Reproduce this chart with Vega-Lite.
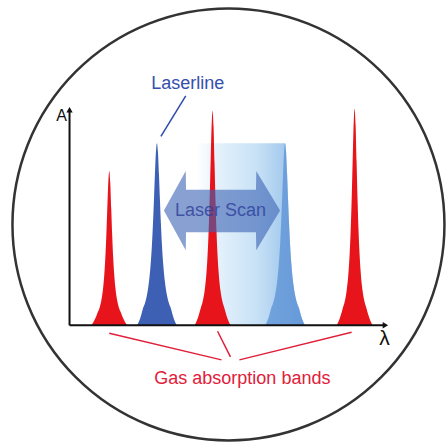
{
  "$schema": "https://vega.github.io/schema/vega-lite/v6.json",
  "width": 448,
  "height": 443,
  "autosize": {"type": "fit", "contains": "padding"},
  "padding": 0,
  "background": "white",
  "config": {"view": {"stroke": null}, "text": {"font": "Liberation Sans"}},
  "datasets": {
    "frame": [{"x": 160, "y": 102}],
    "band": [
      {"x": 128, "y": 184}, {"x": 217, "y": 184}, {"x": 218, "y": 175.4}, {"x": 219, "y": 153.6},
      {"x": 220, "y": 127.3}, {"x": 221, "y": 102.9}, {"x": 222, "y": 82.2}, {"x": 223.5, "y": 59.6},
      {"x": 225, "y": 44.2}, {"x": 227, "y": 30.9}, {"x": 229, "y": 22.6}, {"x": 231, "y": 17.3},
      {"x": 233, "y": 10}, {"x": 235, "y": 4}, {"x": 237, "y": 0}
    ],
    "scanned": [
      {"x": 197, "y": 0}, {"x": 199, "y": 4}, {"x": 201, "y": 10}, {"x": 203, "y": 17.3},
      {"x": 205, "y": 22.6}, {"x": 207, "y": 30.9}, {"x": 209, "y": 44.2}, {"x": 210.5, "y": 59.6},
      {"x": 212, "y": 82.2}, {"x": 213, "y": 102.9}, {"x": 214, "y": 127.3}, {"x": 215, "y": 153.6},
      {"x": 216, "y": 175.4}, {"x": 217, "y": 184}, {"x": 218, "y": 175.4}, {"x": 219, "y": 153.6},
      {"x": 220, "y": 127.3}, {"x": 221, "y": 102.9}, {"x": 222, "y": 82.2}, {"x": 223.5, "y": 59.6},
      {"x": 225, "y": 44.2}, {"x": 227, "y": 30.9}, {"x": 229, "y": 22.6}, {"x": 231, "y": 17.3},
      {"x": 233, "y": 10}, {"x": 235, "y": 4}, {"x": 237, "y": 0}
    ],
    "laserline": [
      {"x": 68, "y": 0}, {"x": 70, "y": 4}, {"x": 72, "y": 10}, {"x": 74, "y": 17.3},
      {"x": 76, "y": 22.6}, {"x": 78, "y": 30.9}, {"x": 80, "y": 44.2}, {"x": 81.5, "y": 59.6},
      {"x": 83, "y": 82.2}, {"x": 84, "y": 102.9}, {"x": 85, "y": 127.3}, {"x": 86, "y": 153.6},
      {"x": 87, "y": 175.4}, {"x": 88, "y": 184}, {"x": 89, "y": 175.4}, {"x": 90, "y": 153.6},
      {"x": 91, "y": 127.3}, {"x": 92, "y": 102.9}, {"x": 93, "y": 82.2}, {"x": 94.5, "y": 59.6},
      {"x": 96, "y": 44.2}, {"x": 98, "y": 30.9}, {"x": 100, "y": 22.6}, {"x": 102, "y": 17.3},
      {"x": 104, "y": 10}, {"x": 106, "y": 4}, {"x": 108, "y": 0}
    ],
    "gas": [
      {"band": 1, "x": 22, "y": 0}, {"band": 1, "x": 24, "y": 3.1}, {"band": 1, "x": 26, "y": 7},
      {"band": 1, "x": 28, "y": 12.2}, {"band": 1, "x": 30, "y": 17}, {"band": 1, "x": 32, "y": 25.1},
      {"band": 1, "x": 34, "y": 39.6}, {"band": 1, "x": 35, "y": 51.3}, {"band": 1, "x": 36, "y": 67.7},
      {"band": 1, "x": 37, "y": 89.9}, {"band": 1, "x": 38, "y": 117.6}, {"band": 1, "x": 39, "y": 144.3},
      {"band": 1, "x": 40, "y": 156}, {"band": 1, "x": 41, "y": 144.3}, {"band": 1, "x": 42, "y": 117.6},
      {"band": 1, "x": 43, "y": 89.9}, {"band": 1, "x": 44, "y": 67.7}, {"band": 1, "x": 45, "y": 51.3},
      {"band": 1, "x": 46, "y": 39.6}, {"band": 1, "x": 48, "y": 25.1}, {"band": 1, "x": 50, "y": 17},
      {"band": 1, "x": 52, "y": 12.2}, {"band": 1, "x": 54, "y": 7}, {"band": 1, "x": 56, "y": 3.1},
      {"band": 1, "x": 58, "y": 0},
      {"band": 2, "x": 126, "y": 0}, {"band": 2, "x": 128, "y": 4.3}, {"band": 2, "x": 130, "y": 9.8},
      {"band": 2, "x": 132, "y": 16.9}, {"band": 2, "x": 134, "y": 23.7}, {"band": 2, "x": 136, "y": 34.9},
      {"band": 2, "x": 138, "y": 55.1}, {"band": 2, "x": 139, "y": 71.4}, {"band": 2, "x": 140, "y": 94.2},
      {"band": 2, "x": 141, "y": 125}, {"band": 2, "x": 142, "y": 163.6}, {"band": 2, "x": 143, "y": 200.7},
      {"band": 2, "x": 144, "y": 217}, {"band": 2, "x": 145, "y": 200.7}, {"band": 2, "x": 146, "y": 163.6},
      {"band": 2, "x": 147, "y": 125}, {"band": 2, "x": 148, "y": 94.2}, {"band": 2, "x": 149, "y": 71.4},
      {"band": 2, "x": 150, "y": 55.1}, {"band": 2, "x": 152, "y": 34.9}, {"band": 2, "x": 154, "y": 23.7},
      {"band": 2, "x": 156, "y": 16.9}, {"band": 2, "x": 158, "y": 9.8}, {"band": 2, "x": 160, "y": 4.3},
      {"band": 2, "x": 162, "y": 0},
      {"band": 3, "x": 269, "y": 0}, {"band": 3, "x": 271, "y": 4.4}, {"band": 3, "x": 273, "y": 9.9},
      {"band": 3, "x": 275, "y": 17.1}, {"band": 3, "x": 277, "y": 23.9}, {"band": 3, "x": 279, "y": 35.3},
      {"band": 3, "x": 281, "y": 55.6}, {"band": 3, "x": 282, "y": 72.1}, {"band": 3, "x": 283, "y": 95},
      {"band": 3, "x": 284, "y": 126.1}, {"band": 3, "x": 285, "y": 165.1}, {"band": 3, "x": 286, "y": 202.6},
      {"band": 3, "x": 287, "y": 219}, {"band": 3, "x": 288, "y": 202.6}, {"band": 3, "x": 289, "y": 165.1},
      {"band": 3, "x": 290, "y": 126.1}, {"band": 3, "x": 291, "y": 95}, {"band": 3, "x": 292, "y": 72.1},
      {"band": 3, "x": 293, "y": 55.6}, {"band": 3, "x": 295, "y": 35.3}, {"band": 3, "x": 297, "y": 23.9},
      {"band": 3, "x": 299, "y": 17.1}, {"band": 3, "x": 301, "y": 9.9}, {"band": 3, "x": 303, "y": 4.4},
      {"band": 3, "x": 305, "y": 0}
    ],
    "axes": [
      {"x": 0, "y": 0, "x2": 0, "y2": 216},
      {"x": 0, "y": 0, "x2": 316, "y2": 0}
    ],
    "arrowUp": [{"x": 0, "y": 218}],
    "arrowRight": [{"x": 318, "y": 0}],
    "scanArrow": [
      {"x": 95, "y": 116, "y2": 116},
      {"x": 117, "y": 156, "y2": 76},
      {"x": 117.3, "y": 137, "y2": 94},
      {"x": 187.7, "y": 137, "y2": 94},
      {"x": 188, "y": 156, "y2": 76},
      {"x": 212, "y": 116, "y2": 116}
    ],
    "laserPointer": [{"x": 117, "y": 232, "x2": 92, "y2": 191}],
    "gasPointers": [
      {"x": 40, "y": -8, "x2": 153, "y2": -35},
      {"x": 149, "y": -6, "x2": 162, "y2": -32},
      {"x": 284, "y": -7, "x2": 171, "y2": -35}
    ],
    "labelA": [{"x": -8, "y": 212, "label": "A"}],
    "labelLambda": [{"x": 317, "y": -14, "label": "λ"}],
    "labelLaser": [{"x": 119, "y": 244, "label": "Laserline"}],
    "labelScan": [{"x": 152, "y": 116, "label": "Laser Scan"}],
    "labelGas": [{"x": 174, "y": -54, "label": "Gas absorption bands"}]
  },
  "encoding": {
    "x": {"field": "x", "type": "quantitative", "scale": {"domain": [-70, 378], "nice": false, "zero": false}, "axis": null},
    "y": {"field": "y", "type": "quantitative", "scale": {"domain": [-114, 329], "nice": false, "zero": false}, "axis": null}
  },
  "layer": [
    {
      "data": {"name": "frame"},
      "mark": {"type": "point", "shape": "circle", "size": 186624, "filled": false, "stroke": "#333333", "strokeWidth": 2.5, "opacity": 1}
    },
    {
      "data": {"name": "band"},
      "mark": {
        "type": "area",
        "interpolate": "monotone",
        "color": {
          "gradient": "linear", "x1": 0, "x2": 1, "y1": 0, "y2": 0,
          "stops": [
            {"offset": 0, "color": "#ffffff"},
            {"offset": 0.2, "color": "#e4f1fb"},
            {"offset": 0.55, "color": "#c8e2f6"},
            {"offset": 0.8, "color": "#a6cbee"},
            {"offset": 1, "color": "#86b4e4"}
          ]
        }
      },
      "encoding": {"y2": {"datum": 0}}
    },
    {
      "data": {"name": "scanned"},
      "mark": {"type": "area", "interpolate": "monotone", "color": "#5a90d4", "opacity": 0.75},
      "encoding": {"y2": {"datum": 0}}
    },
    {
      "data": {"name": "laserline"},
      "mark": {"type": "area", "interpolate": "monotone", "color": "#3d60b4"},
      "encoding": {"y2": {"datum": 0}}
    },
    {
      "data": {"name": "gas"},
      "mark": {"type": "area", "interpolate": "monotone", "color": "#e8141c"},
      "encoding": {"y2": {"datum": 0}, "detail": {"field": "band", "type": "nominal"}}
    },
    {
      "data": {"name": "axes"},
      "mark": {"type": "rule", "color": "#111111", "strokeWidth": 2},
      "encoding": {"x2": {"field": "x2"}, "y2": {"field": "y2"}}
    },
    {
      "data": {"name": "arrowUp"},
      "mark": {"type": "point", "shape": "triangle-up", "size": 40, "filled": true, "color": "#111111", "opacity": 1}
    },
    {
      "data": {"name": "arrowRight"},
      "mark": {"type": "point", "shape": "triangle-right", "size": 40, "filled": true, "color": "#111111", "opacity": 1}
    },
    {
      "data": {"name": "scanArrow"},
      "mark": {"type": "area", "color": "#3a62b4", "opacity": 0.6},
      "encoding": {"y2": {"field": "y2"}}
    },
    {
      "data": {"name": "laserPointer"},
      "mark": {"type": "rule", "color": "#2f4aa8", "strokeWidth": 1.5},
      "encoding": {"x2": {"field": "x2"}, "y2": {"field": "y2"}}
    },
    {
      "data": {"name": "gasPointers"},
      "mark": {"type": "rule", "color": "#e0203a", "strokeWidth": 1.5},
      "encoding": {"x2": {"field": "x2"}, "y2": {"field": "y2"}}
    },
    {
      "data": {"name": "labelA"},
      "mark": {"type": "text", "fontSize": 16, "color": "#111111", "baseline": "middle", "align": "center"},
      "encoding": {"text": {"field": "label"}}
    },
    {
      "data": {"name": "labelLambda"},
      "mark": {"type": "text", "fontSize": 21, "color": "#111111", "baseline": "middle", "align": "center"},
      "encoding": {"text": {"field": "label"}}
    },
    {
      "data": {"name": "labelLaser"},
      "mark": {"type": "text", "fontSize": 18, "color": "#3550ac", "baseline": "middle", "align": "center"},
      "encoding": {"text": {"field": "label"}}
    },
    {
      "data": {"name": "labelScan"},
      "mark": {"type": "text", "fontSize": 18, "color": "#2f3f9a", "opacity": 0.8, "baseline": "middle", "align": "center"},
      "encoding": {"text": {"field": "label"}}
    },
    {
      "data": {"name": "labelGas"},
      "mark": {"type": "text", "fontSize": 18, "color": "#e0203a", "baseline": "middle", "align": "center"},
      "encoding": {"text": {"field": "label"}}
    }
  ]
}
